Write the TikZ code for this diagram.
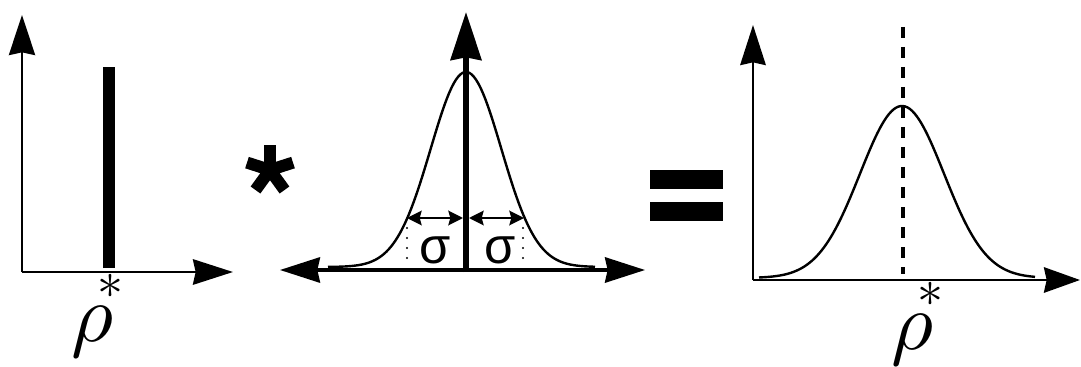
\documentclass[tikz,border=0pt]{standalone}
\usepackage{fontspec}
\usepackage{graphicx}
\newfontfamily\sigmafont{Liberation Sans}
\usetikzlibrary{arrows.meta}
\tikzset{
  axisA/.style={line width=2.2pt},
  gauss/.style={line width=1.8pt, line join=round},
  sigarrow/.style={line width=1.6pt, {Stealth[length=11pt,width=11pt,inset=1.5pt]}-{Stealth[length=11pt,width=11pt,inset=1.5pt]}},
  dotline/.style={line width=1.8pt, line cap=round, dash pattern=on 0pt off 7.5pt},
  rhotxt/.style={inner sep=0pt, anchor=base west},
  sigtxt/.style={inner sep=0pt, font=\sigmafont\fontsize{38}{38}\selectfont},
  bigstar/.style={line width=9pt, line cap=butt},
}
\newcommand{\rhostar}{\scalebox{6.1}{$\rho$}\hspace{-12pt}\raisebox{32pt}{\scalebox{3.9}{$\ast$}}}
\begin{document}
\begin{tikzpicture}[x=0.75pt,y=-0.75pt]
\useasboundingbox (0,0) rectangle (1081,367);
% ---------- panel 1 ----------
\coordinate (o1) at (22,272);
\coordinate (y1) at (22,15);
\coordinate (x1) at (233,272);
\draw[axisA,-{Stealth[length=30pt,width=19.5pt,inset=2pt]}] (o1) -- (y1);
\draw[axisA,-{Stealth[length=30pt,width=19pt,inset=2pt]}] (o1) -- (x1);
\coordinate (b1) at (109,268);
\coordinate (t1) at (109,67);
\draw[line width=9pt] (b1) -- (t1);
\node[rhotxt] (r1) at (71,341) {\rhostar};
% ---------- big asterisk ----------
\coordinate (c) at (270,170);
\draw[bigstar] (c) -- (270,145);
\draw[bigstar] (c) -- (293,162.6);
\draw[bigstar] (c) -- (247,162.6);
\draw[bigstar] (c) -- (284.5,190);
\draw[bigstar] (c) -- (255.5,190);
% ---------- panel 2 ----------
\coordinate (o2) at (466,270);
\coordinate (l2) at (280,270);
\coordinate (rr2) at (645,270);
\coordinate (ob2) at (466,272);
\coordinate (y2) at (466,12);
\draw[line width=2.4pt,{Stealth[length=30pt,width=19pt,inset=2pt]}-{Stealth[length=30pt,width=19pt,inset=2pt]}] (l2) -- (rr2);
\draw[gauss] plot[domain=-138:129,samples=120] ({466+\x},{267-195*exp(-0.5*(\x/35.3)^2)});
\draw[line width=4pt,-{Stealth[length=36pt,width=23pt,inset=2pt]}] (ob2) -- (y2);
\coordinate (sa) at (407,218);
\coordinate (sb) at (463,218);
\coordinate (sc) at (469,218);
\coordinate (sd) at (524,218);
\draw[sigarrow] (sa) -- (sb);
\draw[sigarrow] (sc) -- (sd);
\coordinate (da) at (407,228);
\coordinate (db) at (407,268);
\coordinate (dc) at (523,228);
\coordinate (dd) at (523,268);
\draw[dotline] (da) -- (db);
\draw[dotline] (dc) -- (dd);
\node[sigtxt] (sig1) at (435,250) {σ};
\node[sigtxt] (sig2) at (500,250) {σ};
% ---------- equals ----------
\fill (650,170) rectangle (723,189);
\fill (650,202) rectangle (723,221);
% ---------- panel 3 ----------
\coordinate (o3) at (753,280);
\coordinate (y3) at (753,25);
\coordinate (x3) at (1080,280);
\draw[line width=2.2pt,-{Stealth[length=30pt,width=19pt,inset=2pt]}] (o3) -- (y3);
\draw[line width=2.2pt,-{Stealth[length=27pt,width=19pt,inset=2pt]}] (o3) -- (x3);
\coordinate (dt) at (903,27);
\coordinate (dbm) at (903,274);
\draw[line width=2.4pt, dash pattern=on 8.25pt off 6.75pt] (dt) -- (dbm);
\draw[gauss] plot[domain=-143:133,samples=120] ({902+\x},{278-172*exp(-0.5*(\x/42)^2)});
\node[rhotxt] (r3) at (891,349) {\rhostar};
\end{tikzpicture}
\end{document}
